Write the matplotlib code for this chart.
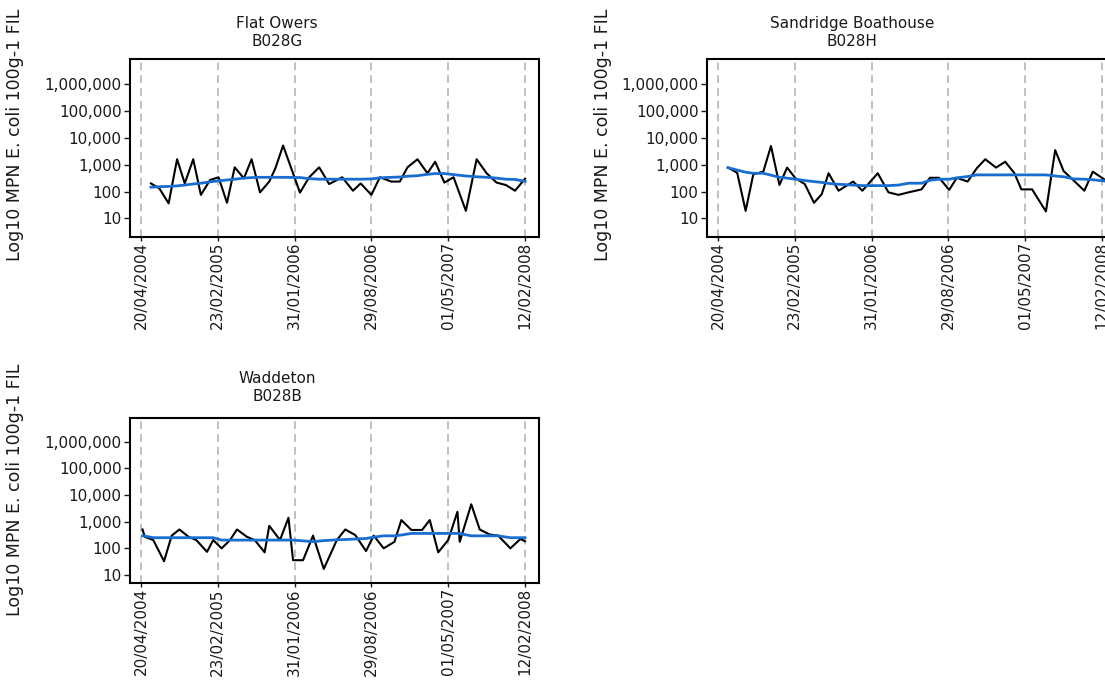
import matplotlib
matplotlib.use("Agg")
import matplotlib.pyplot as plt
from matplotlib.ticker import FixedLocator, FuncFormatter

# ---- data -------------------------------------------------------------
date_labels = ["20/04/2004", "23/02/2005", "31/01/2006",
               "29/08/2006", "01/05/2007", "12/02/2008"]
y_ticks = [10, 100, 1000, 10000, 100000, 1000000]

# Flat Owers B028G
flat_x = [0.13, 0.24, 0.36, 0.47, 0.57, 0.68, 0.78, 0.90, 1.01, 1.12,
          1.22, 1.34, 1.44, 1.55, 1.67, 1.75, 1.85, 2.07, 2.19, 2.32,
          2.45, 2.62, 2.76, 2.86, 3.00, 3.11, 3.26, 3.37, 3.47, 3.60,
          3.73, 3.83, 3.95, 4.07, 4.23, 4.37, 4.50, 4.63, 4.75, 4.87, 5.00]
flat_mpn = [200, 130, 36, 1600, 200, 1600, 75, 270, 340, 38,
            800, 310, 1600, 93, 235, 740, 5200, 91, 340, 800,
            190, 340, 107, 200, 75, 340, 235, 235, 800, 1600,
            480, 1290, 215, 340, 19, 1600, 480, 215, 175, 107, 300]
flat_trend = [145, 151, 155, 162, 174, 191, 204, 229, 251, 269,
              288, 316, 331, 339, 339, 339, 339, 331, 302, 288,
              288, 288, 288, 288, 295, 324, 339, 347, 372, 389,
              437, 468, 468, 427, 380, 355, 339, 316, 288, 282, 240]

# Sandridge Boathouse B028H
sand_x = [0.13, 0.25, 0.36, 0.46, 0.59, 0.69, 0.80, 0.90, 1.01, 1.13,
          1.25, 1.35, 1.44, 1.57, 1.76, 1.88, 2.08, 2.22, 2.35, 2.48,
          2.65, 2.76, 2.88, 3.01, 3.11, 3.25, 3.37, 3.48, 3.62, 3.74,
          3.86, 3.95, 4.09, 4.27, 4.39, 4.50, 4.63, 4.77, 4.88, 5.04]
sand_mpn = [780, 500, 19, 440, 550, 5000, 175, 780, 310, 190,
            38, 79, 480, 107, 235, 107, 480, 93, 75, 93,
            120, 325, 325, 115, 325, 235, 740, 1600, 780, 1290,
            480, 120, 120, 18, 3500, 580, 260, 107, 550, 270]
sand_trend = [776, 631, 525, 479, 479, 407, 339, 316, 288, 257,
              234, 219, 200, 186, 174, 166, 166, 166, 174, 204,
              204, 263, 288, 288, 324, 363, 417, 417, 417, 417,
              417, 417, 417, 417, 380, 355, 295, 288, 275, 245]

# Waddeton B028B
wadd_x = [0.02, 0.05, 0.16, 0.30, 0.40, 0.50, 0.62, 0.72, 0.86, 0.94,
          1.05, 1.16, 1.25, 1.38, 1.48, 1.61, 1.67, 1.81, 1.92, 1.98,
          2.11, 2.24, 2.38, 2.55, 2.66, 2.79, 2.93, 3.03, 3.16, 3.30,
          3.39, 3.52, 3.66, 3.76, 3.87, 4.00, 4.12, 4.15, 4.30, 4.41,
          4.54, 4.65, 4.81, 4.94, 5.00]
wadd_mpn = [510, 270, 205, 33, 300, 510, 270, 205, 74, 205,
            100, 205, 510, 270, 205, 71, 700, 205, 1400, 36,
            36, 300, 17, 205, 510, 315, 79, 300, 100, 176,
            1150, 490, 490, 1150, 71, 205, 2350, 176, 4500, 510,
            330, 300, 100, 225, 185]
wadd_trend = [295, 288, 251, 251, 251, 251, 251, 251, 251, 251,
              204, 204, 204, 204, 204, 204, 204, 204, 204, 204,
              191, 178, 195, 209, 214, 224, 234, 263, 295, 295,
              316, 363, 363, 363, 363, 363, 363, 355, 295, 295,
              295, 295, 251, 251, 251]

# ---- layout -----------------------------------------------------------
W, H = 1105, 683
fig = plt.figure(figsize=(W / 100, H / 100), dpi=100)
plt.rcParams["font.family"] = ["DejaVu Sans"]
TXT = "#1a1a1a"
FS = 11


def add_panel(left, top, right, bottom, ylim, x, mpn, trend,
              name, code, title_cx, title_gap, label_x, label_cy):
    ax = fig.add_axes([left / W, 1 - bottom / H, (right - left) / W,
                       (bottom - top) / H])
    ax.set_yscale("log")
    ax.set_xlim(-0.143, 5.186)
    ax.set_ylim(*ylim)

    ax.yaxis.set_major_locator(FixedLocator(y_ticks))
    ax.yaxis.set_minor_locator(FixedLocator([]))
    ax.yaxis.set_major_formatter(FuncFormatter(lambda v, p: f"{v:,.0f}"))
    ax.set_xticks(range(len(date_labels)))
    ax.set_xticklabels(date_labels, rotation=90)
    ax.tick_params(axis="both", labelsize=FS, colors=TXT, length=4,
                   width=1.0, pad=2)
    ax.tick_params(axis="x", length=3, pad=0.5)

    ax.grid(False)
    for t in range(len(date_labels)):
        ax.axvline(t, color="#c0c0c0", lw=1.4, ls=(0, (4, 2.6)), zorder=0)

    for s in ax.spines.values():
        s.set_linewidth(1.5)
        s.set_color("black")

    ax.plot(x, mpn, color="black", lw=1.5, zorder=3)
    ax.plot(x, trend, color="#1a6dd0", lw=2.0, zorder=4)

    fig.text(title_cx / W, 1 - (top - title_gap) / H, f"{name}\n{code}",
             ha="center", va="bottom", fontsize=FS, color=TXT,
             linespacing=1.25)
    fig.text(label_x / W, 1 - label_cy / H, "Log10 MPN E. coli 100g-1 FIL",
             rotation=90, ha="center", va="center", fontsize=12.5, color=TXT)
    return ax


add_panel(130, 59, 539.3, 236.7, (2.06, 8.8e6), flat_x, flat_mpn,
          flat_trend, "Flat Owers", "B028G", 277, 10, 15, 135)
add_panel(707, 59, 1116.3, 236.7, (2.06, 8.8e6), sand_x, sand_mpn,
          sand_trend, "Sandridge Boathouse", "B028H", 852, 10, 603, 135)
add_panel(130, 418.3, 539.3, 583.3, (4.9, 7.5e6), wadd_x, wadd_mpn,
          wadd_trend, "Waddeton", "B028B", 277, 14, 15, 490)

fig.savefig("out.png", dpi=100)
